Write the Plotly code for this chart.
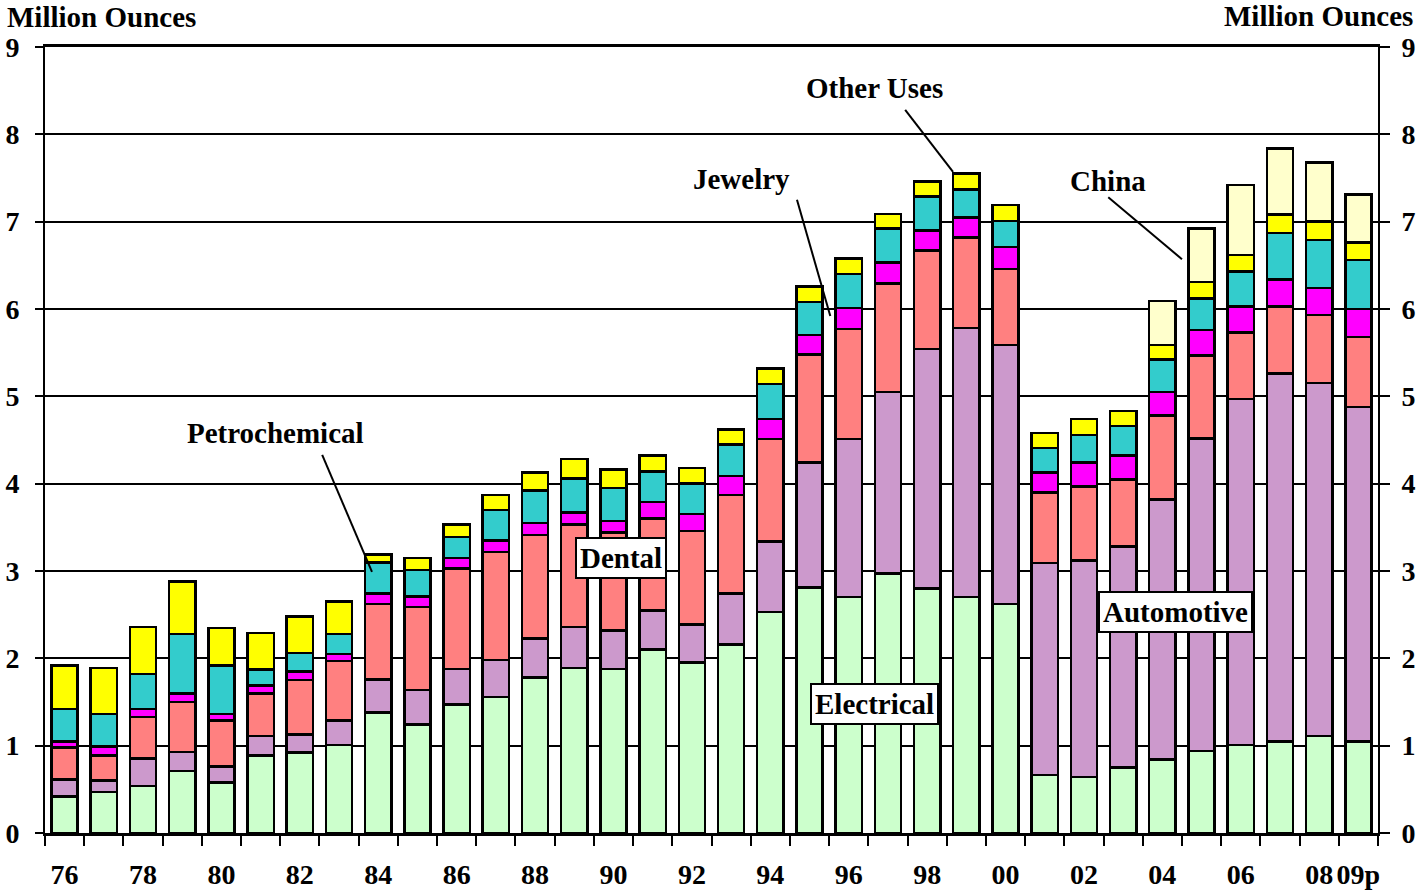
import plotly.graph_objects as go

# DATA ##########################################################################

years = ['76', '77', '78', '79', '80', '81', '82', '83', '84', '85', '86', '87',
         '88', '89', '90', '91', '92', '93', '94', '95', '96', '97', '98', '99',
         '00', '01', '02', '03', '04', '05', '06', '07', '08', '09p']

electrical = [0.42, 0.47, 0.54, 0.71, 0.58, 0.89, 0.92, 1.01, 1.38, 1.24, 1.47, 1.56,
              1.78, 1.89, 1.88, 2.10, 1.95, 2.16, 2.53, 2.81, 2.70, 2.97, 2.80, 2.70,
              2.62, 0.665, 0.64, 0.75, 0.84, 0.94, 1.01, 1.05, 1.11, 1.05]
automotive = [0.19, 0.13, 0.315, 0.22, 0.18, 0.22, 0.21, 0.28, 0.38, 0.40, 0.41, 0.42,
              0.45, 0.47, 0.44, 0.45, 0.44, 0.58, 0.81, 1.43, 1.81, 2.08, 2.74, 3.08,
              2.97, 2.425, 2.48, 2.53, 2.98, 3.58, 3.96, 4.21, 4.04, 3.83]
dental = [0.37, 0.285, 0.475, 0.57, 0.53, 0.49, 0.62, 0.68, 0.86, 0.95, 1.15, 1.24,
          1.18, 1.17, 1.12, 1.05, 1.07, 1.13, 1.17, 1.24, 1.26, 1.24, 1.13, 1.04,
          0.87, 0.81, 0.85, 0.77, 0.96, 0.95, 0.76, 0.77, 0.78, 0.80]
jewelry = [0.07, 0.105, 0.09, 0.10, 0.07, 0.09, 0.10, 0.08, 0.12, 0.12, 0.12, 0.13,
           0.14, 0.14, 0.13, 0.19, 0.19, 0.22, 0.23, 0.22, 0.24, 0.24, 0.23, 0.23,
           0.25, 0.23, 0.27, 0.27, 0.27, 0.29, 0.30, 0.31, 0.31, 0.32]
petrochemical = [0.37, 0.37, 0.40, 0.68, 0.56, 0.18, 0.21, 0.23, 0.36, 0.30, 0.24, 0.35,
                 0.37, 0.39, 0.38, 0.35, 0.35, 0.36, 0.40, 0.38, 0.39, 0.39, 0.39, 0.32,
                 0.30, 0.28, 0.32, 0.34, 0.37, 0.36, 0.40, 0.53, 0.55, 0.56]
other_uses = [0.50, 0.53, 0.54, 0.60, 0.43, 0.42, 0.42, 0.37, 0.09, 0.14, 0.14, 0.17,
              0.21, 0.22, 0.21, 0.18, 0.18, 0.17, 0.18, 0.18, 0.18, 0.17, 0.17, 0.18,
              0.18, 0.17, 0.18, 0.17, 0.17, 0.19, 0.19, 0.21, 0.21, 0.20]
china = [None] * 28 + [0.50, 0.61, 0.80, 0.76, 0.68, 0.55]

tick_labels = [y if i % 2 == 0 or y == '09p' else '' for i, y in enumerate(years)]

# FIGURE ########################################################################

FONT = 'Liberation Serif, Times New Roman, serif'

series = [
    ('Electrical', electrical, '#CCFFCC'),
    ('Automotive', automotive, '#CC99CC'),
    ('Dental', dental, '#FF8080'),
    ('Jewelry', jewelry, '#FF00FF'),
    ('Petrochemical', petrochemical, '#33CCCC'),
    ('Other Uses', other_uses, '#FFFF00'),
    ('China', china, '#FFFFCC'),
]

fig = go.Figure()
for name, vals, col in series:
    fig.add_trace(go.Bar(
        x=years, y=vals, name=name,
        marker=dict(color=col, line=dict(color='black', width=2.5)),
    ))

# dummy trace so the right-hand axis gets drawn
fig.add_trace(go.Scatter(x=[years[0]], y=[0], yaxis='y2', mode='markers',
                         marker=dict(opacity=0), hoverinfo='skip', showlegend=False))

tick_font = dict(size=28, weight='bold', family=FONT)

fig.update_layout(
    width=1422, height=890,
    barmode='stack', bargap=0.33,
    showlegend=False,
    paper_bgcolor='white', plot_bgcolor='white',
    margin=dict(l=45, r=44, t=47, b=57),
    font=dict(family=FONT, color='black'),
    xaxis=dict(
        type='category', range=[-0.5, len(years) - 0.5], automargin=False,
        tickmode='array', tickvals=years, ticktext=tick_labels, tickangle=0,
        tickson='boundaries', ticks='outside', ticklen=10, tickwidth=2, tickcolor='black',
        showline=True, linecolor='black', linewidth=3, mirror=True,
        showgrid=False, ticklabelstandoff=14, tickfont=tick_font,
    ),
    yaxis=dict(
        range=[0, 9], dtick=1, automargin=False,
        showgrid=True, gridcolor='black', gridwidth=2,
        showline=True, linecolor='black', linewidth=2,
        ticks='outside', ticklen=8, tickwidth=2, tickcolor='black',
        zeroline=False, ticklabelstandoff=10, tickfont=tick_font,
    ),
    yaxis2=dict(
        range=[0, 9], dtick=1, overlaying='y', side='right', automargin=False,
        showgrid=False, showline=True, linecolor='black', linewidth=2,
        ticks='outside', ticklen=10, tickwidth=2, tickcolor='black',
        zeroline=False, ticklabelstandoff=6, tickfont=tick_font,
    ),
)

title_font = dict(size=29, weight='bold', family=FONT)
fig.add_annotation(text='Million Ounces', xref='paper', yref='paper', x=-0.030, y=1.038,
                   xanchor='left', yanchor='middle', showarrow=False, font=title_font)
fig.add_annotation(text='Million Ounces', xref='paper', yref='paper', x=1.0275, y=1.0395,
                   xanchor='right', yanchor='middle', showarrow=False, font=title_font)

lbl_font = dict(size=29, weight='bold', family=FONT)

# callout labels with leader lines (x in category-index units)
callouts = [
    ('Petrochemical', 5.37, 4.58, (6.57, 4.33), (7.84, 2.99)),
    ('Jewelry', 17.26, 7.49, (18.68, 7.25), (19.53, 5.92)),
    ('Other Uses', 20.67, 8.53, (21.44, 8.28), (22.66, 7.57)),
    ('China', 26.62, 7.47, (26.62, 7.28), (28.50, 6.57)),
]
for txt, tx, ty, p0, p1 in callouts:
    fig.add_annotation(text=txt, x=tx, y=ty, xref='x', yref='y', showarrow=False,
                       font=lbl_font)
    fig.add_shape(type='line', xref='x', yref='y', x0=p0[0], y0=p0[1], x1=p1[0], y1=p1[1],
                  line=dict(color='black', width=2))

boxed = [
    ('Dental', 14.2, 3.15),
    ('Electrical', 20.65, 1.48),
    ('Automotive', 28.33, 2.53),
]
for txt, tx, ty in boxed:
    fig.add_annotation(text=txt, x=tx, y=ty, xref='x', yref='y', showarrow=False,
                       font=lbl_font, bgcolor='white', bordercolor='black',
                       borderwidth=2, borderpad=3)

# page body has a default 8px margin; drop it so the figure sits at 0,0
fig.write_html('out.html', config={'displayModeBar': False},
               post_script="document.body.style.margin='0';")
